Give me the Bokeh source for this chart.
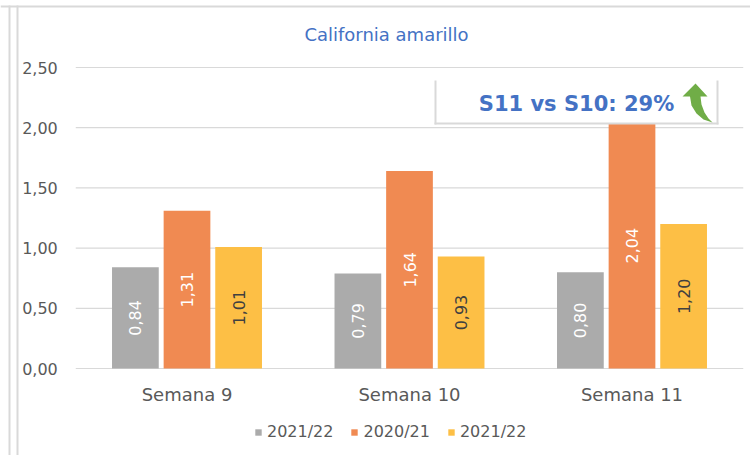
import math
from bokeh.plotting import figure
from bokeh.models import (ColumnDataSource, Range1d, Legend, LegendItem, Label, BoxAnnotation,
                          PolyAnnotation, FixedTicker, CustomJSTickFormatter)
from bokeh.core.properties import value
from bokeh.embed import file_html
from bokeh.resources import INLINE

# ---- data ----
categories = ["Semana 9", "Semana 10", "Semana 11"]
series_labels = ["2021/22", "2020/21", "2021/22"]
serie_gris = [0.84, 0.79, 0.80]
serie_naranja = [1.31, 1.64, 2.04]
serie_amarilla = [1.01, 0.93, 1.20]
y_ticks = [0.0, 0.5, 1.0, 1.5, 2.0, 2.5]
title_text = "California amarillo"
callout_text = "S11 vs S10: 29%"

# ---- style / layout ----
FONT = "DejaVu Sans"
W, H = 750, 455
colors = ["#ABABAB", "#F08A52", "#FDBF45"]
label_colors = ["#FFFFFF", "#FFFFFF", "#404040"]
offsets = [-0.232, 0.0, 0.232]
BAR_W = 0.21
series = [serie_gris, serie_naranja, serie_amarilla]

# plot-area placement in the picture (pixels)
PX_LEFT, PX_CAT = 75.25, 222.5          # x of first category edge, width of one category
PY_ZERO, PY_TOP = 368.0, 67.0           # y of 0 and of the top tick
ppu = (PY_ZERO - PY_TOP) / y_ticks[-1]  # pixels per unit

xs = -PX_LEFT / PX_CAT
xe = (W - PX_LEFT) / PX_CAT
ys = -(H - PY_ZERO) / ppu
ye = y_ticks[-1] + PY_TOP / ppu


def dx(px):
    return xs + px / W * (xe - xs)


def dy(py):
    return ye - py / H * (ye - ys)


def fmt(v):
    return f"{v:.2f}".replace(".", ",")


centers = [i + 0.5 for i in range(len(categories))]
data = dict(x=centers)
for i, s in enumerate(series):
    data[f"x{i}"] = [c + offsets[i] for c in centers]
    data[f"v{i}"] = s
    data[f"m{i}"] = [v / 2 for v in s]
    data[f"t{i}"] = [fmt(v) for v in s]
src = ColumnDataSource(data)

p = figure(x_range=Range1d(xs, xe), y_range=Range1d(ys, ye), width=W, height=H,
           output_backend="svg", toolbar_location=None,
           min_border=0, min_border_left=0, min_border_right=0, min_border_top=0,
           min_border_bottom=0)
p.outline_line_color = None
p.background_fill_color = "white"
p.border_fill_color = "white"
p.xgrid.visible = False
p.ygrid.visible = False

p.yaxis.ticker = FixedTicker(ticks=y_ticks)
p.yaxis.formatter = CustomJSTickFormatter(code="return tick.toFixed(2).replace('.', ',');")
p.xaxis.ticker = FixedTicker(ticks=centers)
p.xaxis.formatter = CustomJSTickFormatter(args=dict(cats=categories),
                                          code="return cats[Math.round(tick - 0.5)];")
p.yaxis.fixed_location = 0
p.xaxis.fixed_location = 0
for ax in (p.xaxis, p.yaxis):
    ax.axis_line_color = None
    ax.major_tick_line_color = None
    ax.minor_tick_line_color = None
    ax.major_label_text_font = FONT
    ax.major_label_text_color = "#595959"
p.yaxis.major_label_text_font_size = "16px"
p.xaxis.major_label_text_font_size = "18px"
p.yaxis.major_label_standoff = 12
p.xaxis.major_label_standoff = 9

# gridlines across the plot area
p.segment(x0=0, x1=len(categories), y0=y_ticks, y1=y_ticks, line_color="#D9D9D9", line_width=1.2)

renderers = []
for i in range(3):
    r = p.vbar(x=f"x{i}", top=f"v{i}", width=BAR_W, source=src,
               fill_color=colors[i], line_color=None)
    renderers.append(r)
    p.text(x=f"x{i}", y=f"m{i}", text=f"t{i}", source=src,
           angle=math.pi / 2, text_align="center", text_baseline="middle",
           text_color=label_colors[i], text_font=value(FONT), text_font_size="16px")

legend = Legend(items=[LegendItem(label=series_labels[i], renderers=[renderers[i]]) for i in range(3)],
                orientation="horizontal", location=(254, 14), glyph_width=8, glyph_height=8,
                label_text_font=FONT, label_text_font_size="16px", label_text_color="#595959",
                border_line_color=None, background_fill_alpha=0, spacing=17, label_standoff=5,
                margin=0, padding=4)
p.add_layout(legend)

# title
p.add_layout(Label(x=dx(386), y=dy(34), text=title_text,
                   text_align="center", text_baseline="middle", text_color="#4472C4",
                   text_font=FONT, text_font_size="18px"))

line_col = "#D9D9D9"


def box(l, r, t, b, color):
    p.add_layout(BoxAnnotation(left=dx(l), right=dx(r), top=dy(t), bottom=dy(b),
                               fill_color=color, fill_alpha=1, line_color=None))


# outer frame lines
box(0, W, 5, 7, line_col)
box(8, 10, 5, H, line_col)
box(16, 18, 5, H, line_col)

# callout box
box(435, 717, 80, 123, "white")
box(434, 436, 80, 124, line_col)
box(716, 718, 80, 124, line_col)
box(434, 718, 122, 124, line_col)
p.add_layout(Label(x=dx(576), y=dy(103), text=callout_text,
                   text_align="center", text_baseline="middle", text_color="#4472C4",
                   text_font=FONT, text_font_size="21px", text_font_style="bold"))

arrow_px = [695, 707, 700, 701, 704, 708, 712, 703, 696, 691, 689.5, 682]
arrow_py = [83, 96, 96, 104, 112, 118, 122, 119, 113, 105, 96, 96]
p.add_layout(PolyAnnotation(xs=[dx(v) for v in arrow_px], ys=[dy(v) for v in arrow_py],
                            fill_color="#70AD47", fill_alpha=1, line_color=None))

open("out.html", "w").write(file_html(p, INLINE))
